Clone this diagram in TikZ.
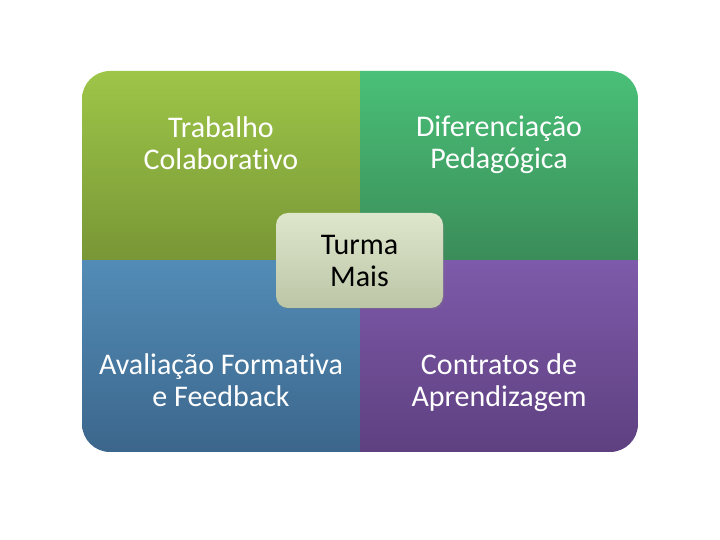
\documentclass[tikz,border=0pt]{standalone}
\usepackage{fontspec}
\setmainfont{Carlito}[Ligatures={NoCommon}]
\usetikzlibrary{shadows}
\definecolor{gTop}{RGB}{158,198,72}
\definecolor{gBot}{RGB}{120,150,54}
\definecolor{tTop}{RGB}{74,192,120}
\definecolor{tBot}{RGB}{58,140,88}
\definecolor{bTop}{RGB}{82,140,182}
\definecolor{bBot}{RGB}{60,102,140}
\definecolor{pTop}{RGB}{126,90,170}
\definecolor{pBot}{RGB}{94,64,128}
\definecolor{cTop}{RGB}{222,230,204}
\definecolor{cBot}{RGB}{188,198,166}
\tikzset{
  lbl/.style={text=white,font=\fontsize{30pt}{32pt}\selectfont,align=center,inner sep=0pt},
  hub/.style={rounded corners=12pt,minimum width=167pt,minimum height=95pt,
    top color=cTop,bottom color=cBot,draw=none,
    drop shadow={opacity=0.25,shadow xshift=1.5pt,shadow yshift=-1.5pt},
    font=\fontsize{30pt}{32pt}\selectfont,align=center,text=black,inner sep=0pt}
}
\begin{document}
\begin{tikzpicture}[x=1pt,y=1pt]
\useasboundingbox (0,0) rectangle (720,540);
\begin{scope}
\clip[rounded corners=28pt] (82,88) rectangle (638,469);
\shade[top color=gTop,bottom color=gBot] (82,279) rectangle (360,469);
\shade[top color=tTop,bottom color=tBot] (360,279) rectangle (638,469);
\shade[top color=bTop,bottom color=bBot] (82,88) rectangle (360,279);
\shade[top color=pTop,bottom color=pBot] (360,88) rectangle (638,279);
\end{scope}
\node[lbl] (tl) at (221,397) {Trabalho\\Colaborativo};
\node[lbl] (tr) at (499,395.5) {Diferenciação\\Pedagógica};
\node[lbl] (bl) at (221,160) {Avaliação Formativa\\e Feedback};
\node[lbl] (br) at (499,157.5) {Contratos de\\Aprendizagem};
\node[hub] (hub) at (359.5,279.5) {Turma\\Mais};
\end{tikzpicture}
\end{document}
